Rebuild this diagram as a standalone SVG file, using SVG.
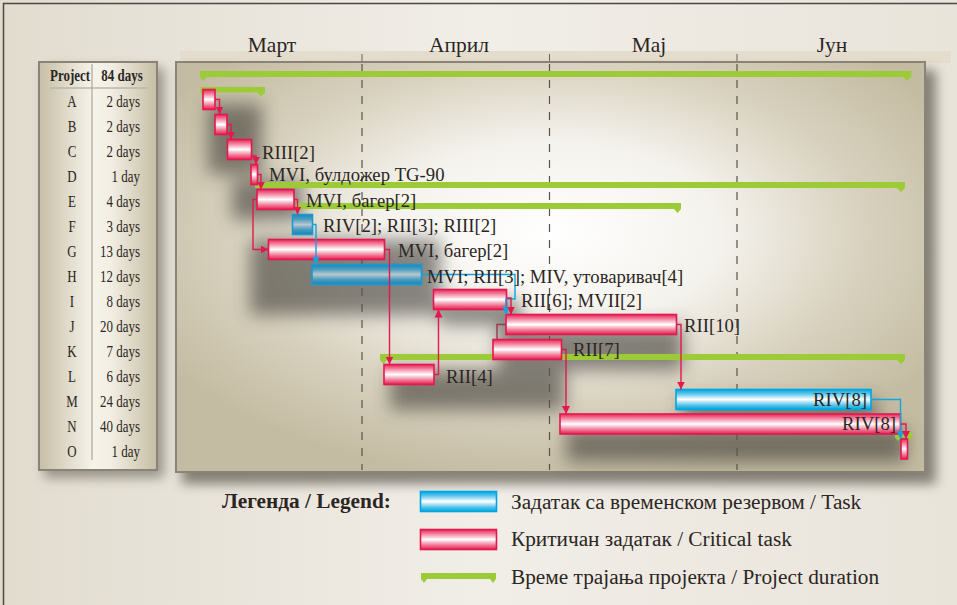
<svg xmlns="http://www.w3.org/2000/svg" width="957" height="605" viewBox="0 0 957 605">
<defs>
<linearGradient id="pageBg" x1="0" y1="0" x2="1" y2="0">
<stop offset="0" stop-color="#e2dccf"/><stop offset="0.5" stop-color="#f1eee8"/><stop offset="1" stop-color="#e9e4da"/>
</linearGradient>
<radialGradient id="chartBg" cx="0.5" cy="0.42" r="0.6">
<stop offset="0" stop-color="#ffffff"/><stop offset="0.38" stop-color="#f4f2ec"/><stop offset="0.7" stop-color="#d8d1be"/><stop offset="1" stop-color="#c4bca2"/>
</radialGradient>
<linearGradient id="tableBg" x1="0" y1="0" x2="1" y2="0">
<stop offset="0" stop-color="#c6bea5"/><stop offset="0.45" stop-color="#f6f3ea"/><stop offset="0.6" stop-color="#f3efe4"/><stop offset="1" stop-color="#c6bea5"/>
</linearGradient>
<linearGradient id="red" x1="0" y1="0" x2="0" y2="1">
<stop offset="0" stop-color="#e8285a"/><stop offset="0.2" stop-color="#f27a98"/><stop offset="0.5" stop-color="#ffffff"/><stop offset="0.8" stop-color="#f07090"/><stop offset="1" stop-color="#e51e52"/>
</linearGradient>
<linearGradient id="blue" x1="0" y1="0" x2="0" y2="1">
<stop offset="0" stop-color="#00a8e2"/><stop offset="0.2" stop-color="#55c3ec"/><stop offset="0.5" stop-color="#ffffff"/><stop offset="0.8" stop-color="#4fc0ea"/><stop offset="1" stop-color="#00a6e0"/>
</linearGradient>
<linearGradient id="blueDark" x1="0" y1="0" x2="0" y2="1">
<stop offset="0" stop-color="#1688b8"/><stop offset="0.25" stop-color="#4f9fc0"/><stop offset="0.5" stop-color="#b8c8ce"/><stop offset="0.75" stop-color="#4b9cbf"/><stop offset="1" stop-color="#1386b8"/>
</linearGradient>
<filter id="blur8" x="-20%" y="-20%" width="140%" height="160%"><feGaussianBlur stdDeviation="9"/></filter>
<filter id="blur5" x="-20%" y="-20%" width="140%" height="140%"><feGaussianBlur stdDeviation="6"/></filter>
<marker id="arR" viewBox="0 0 8 8" refX="8" refY="4" markerWidth="8" markerHeight="8.5" markerUnits="userSpaceOnUse" orient="auto"><path d="M0,0 L8,4 L0,8 Z" fill="#e5174f"/></marker>
<marker id="arB" viewBox="0 0 8 8" refX="8" refY="4" markerWidth="8" markerHeight="8.5" markerUnits="userSpaceOnUse" orient="auto"><path d="M0,0 L8,4 L0,8 Z" fill="#12a4dc"/></marker>
<style>
.serif{font-family:"Liberation Serif","DejaVu Serif",serif;fill:#2b2623}
.tbl{font-family:"Liberation Serif","DejaVu Serif",serif;font-size:17.5px;fill:#2b2623}
.lbl{font-family:"Liberation Serif","DejaVu Serif",serif;font-size:18.7px;fill:#2b2623}
.rb{fill:url(#red);stroke:#e5174f;stroke-width:1.6}
.bb{fill:url(#blue);stroke:#00a6e0;stroke-width:1.6}
.bd{fill:url(#blueDark);stroke:#1a9ad2;stroke-width:1.6}
.cr{fill:none;stroke:#e5174f;stroke-width:1.4;marker-end:url(#arR)}
.cb{fill:none;stroke:#12a4dc;stroke-width:1.4;marker-end:url(#arB)}
.cd{fill:none;stroke:#9a3a48;stroke-width:1.4}
.gr{fill:#9dcb38}
.dash{stroke:#5b534a;stroke-width:1.2;stroke-dasharray:8 8}
</style>
</defs>

<!-- page -->
<rect x="0" y="0" width="957" height="605" fill="url(#pageBg)"/>
<path d="M3.5,605 V3.5 H957" fill="none" stroke="#4a4744" stroke-width="1.5"/>

<!-- header strip -->
<rect x="180" y="51" width="771" height="12" fill="#e4ddcd"/>
<g stroke="#6b645a" stroke-width="1">
<line x1="362" y1="54" x2="362" y2="63"/><line x1="549.5" y1="54" x2="549.5" y2="63"/><line x1="737" y1="54" x2="737" y2="63"/>
</g>
<g class="serif" font-size="21.5" text-anchor="middle">
<text x="272" y="52">Март</text>
<text x="459" y="52">Април</text>
<text x="649" y="52">Мај</text>
<text x="832" y="52">Јун</text>
</g>

<!-- shadows of panels -->
<rect x="182" y="70" width="754" height="414" fill="#5a5448" opacity="0.7" filter="url(#blur5)"/>
<rect x="44" y="68" width="120" height="410" fill="#5a5448" opacity="0.55" filter="url(#blur5)"/>

<!-- chart panel -->
<rect x="176" y="62" width="749" height="410" fill="url(#chartBg)" stroke="#8a8478" stroke-width="2"/>

<!-- table panel -->
<g id="table">
<rect x="39" y="62" width="118" height="408" fill="url(#tableBg)" stroke="#8a8478" stroke-width="2"/>
<line x1="50" y1="88" x2="148" y2="88" stroke="#bcb6aa" stroke-width="1.5"/>
<line x1="92" y1="64" x2="92" y2="460" stroke="#aba699" stroke-width="1.2"/>
<g class="tbl" font-weight="bold" text-anchor="middle">
<text transform="translate(70,81) scale(0.74 1)">Project</text>
<text transform="translate(122,81) scale(0.74 1)">84 days</text>
</g>
<g class="tbl" text-anchor="middle">
<text transform="translate(72,107) scale(0.74 1)">A</text>
<text transform="translate(72,132) scale(0.74 1)">B</text>
<text transform="translate(72,157) scale(0.74 1)">C</text>
<text transform="translate(72,182) scale(0.74 1)">D</text>
<text transform="translate(72,207) scale(0.74 1)">E</text>
<text transform="translate(72,232) scale(0.74 1)">F</text>
<text transform="translate(72,257) scale(0.74 1)">G</text>
<text transform="translate(72,282) scale(0.74 1)">H</text>
<text transform="translate(72,307) scale(0.74 1)">I</text>
<text transform="translate(72,332) scale(0.74 1)">J</text>
<text transform="translate(72,357) scale(0.74 1)">K</text>
<text transform="translate(72,382) scale(0.74 1)">L</text>
<text transform="translate(72,407) scale(0.74 1)">M</text>
<text transform="translate(72,432) scale(0.74 1)">N</text>
<text transform="translate(72,457) scale(0.74 1)">O</text>
</g>
<g class="tbl" text-anchor="end">
<text transform="translate(140,107) scale(0.74 1)">2 days</text>
<text transform="translate(140,132) scale(0.74 1)">2 days</text>
<text transform="translate(140,157) scale(0.74 1)">2 days</text>
<text transform="translate(140,182) scale(0.74 1)">1 day</text>
<text transform="translate(140,207) scale(0.74 1)">4 days</text>
<text transform="translate(140,232) scale(0.74 1)">3 days</text>
<text transform="translate(140,257) scale(0.74 1)">13 days</text>
<text transform="translate(140,282) scale(0.74 1)">12 days</text>
<text transform="translate(140,307) scale(0.74 1)">8 days</text>
<text transform="translate(140,332) scale(0.74 1)">20 days</text>
<text transform="translate(140,357) scale(0.74 1)">7 days</text>
<text transform="translate(140,382) scale(0.74 1)">6 days</text>
<text transform="translate(140,407) scale(0.74 1)">24 days</text>
<text transform="translate(140,432) scale(0.74 1)">40 days</text>
<text transform="translate(140,457) scale(0.74 1)">1 day</text>
</g>
</g>

<!-- bar shadows -->
<g fill="#3e3a36" opacity="0.6" filter="url(#blur8)">
<rect x="208" y="104" width="54" height="70"/>
<rect x="232" y="180" width="70" height="40"/>
<rect x="250" y="240" width="190" height="75"/>
<rect x="440" y="300" width="80" height="25"/>
<rect x="498" y="325" width="185" height="45"/>
<rect x="390" y="370" width="175" height="40"/>
<rect x="682" y="400" width="195" height="22"/>
<rect x="566" y="428" width="340" height="34"/>
</g>

<!-- dashed month lines -->
<g class="dash">
<line x1="362" y1="64" x2="362" y2="470"/>
<line x1="549.5" y1="64" x2="549.5" y2="470"/>
<line x1="737" y1="64" x2="737" y2="470"/>
</g>

<!-- project duration bars -->
<g id="durations" class="gr">
<path d="M200,71 H911.5 V77 H911 L907,81 L903,77 H207 L203,81 L200,77 Z"/>
<path d="M200.5,87 H265 V92.5 L261,96.5 L257,92.5 H207 L203,96.5 L200.5,92.5 Z"/>
<path d="M255,182 H905 V188 L901,192 L897,188 H255 Z"/>
<path d="M296,203 H681 V209 L677.5,213 L674,209 H296 Z"/>
<path d="M380,354 H905 V360 L901,364 L897,360 H387 L383.5,364 L380,360 Z"/>
<path d="M895,432 H912 V437.5 L909,441 L906,437.5 H901 L898,441 L895,437.5 Z"/>
</g>

<!-- tasks -->
<g id="task-A"><rect class="rb" x="203" y="89.5" width="12" height="20"/></g>
<g id="task-B"><rect class="rb" x="215" y="114.5" width="12" height="20"/></g>
<g id="task-C"><rect class="rb" x="227.5" y="139.5" width="24" height="20"/></g>
<g id="task-D"><rect class="rb" x="251" y="164.5" width="6.5" height="20"/></g>
<g id="task-E"><rect class="rb" x="257" y="189.5" width="37" height="20"/></g>
<g id="task-F"><rect class="bd" x="292.5" y="214.5" width="20" height="20"/></g>
<g id="task-G"><rect class="rb" x="268.5" y="239.5" width="116" height="20"/></g>
<g id="task-H"><rect class="bd" x="312" y="264.5" width="109.5" height="20"/></g>
<g id="task-I"><rect class="rb" x="433.5" y="289.5" width="73" height="20"/></g>
<g id="task-J"><rect class="rb" x="506" y="314.5" width="170.5" height="20"/></g>
<g id="task-K"><rect class="rb" x="493" y="339.5" width="68.5" height="20"/></g>
<g id="task-L"><rect class="rb" x="384" y="364.5" width="50" height="20"/></g>
<g id="task-M"><rect class="bb" x="676" y="389.5" width="195" height="20"/></g>
<g id="task-N"><rect class="rb" x="560" y="414" width="340.5" height="20"/></g>
<g id="task-O"><rect class="rb" x="901" y="439" width="6.5" height="20"/></g>

<!-- connectors -->
<g id="connectors">
<path class="cr" d="M215,99.5 H219.5 V114.5"/>
<path class="cr" d="M227,124.5 H231 V139.5"/>
<path class="cr" d="M251.5,156 H256 V164.5"/>
<path class="cr" d="M257.5,174.5 H261 V189.5"/>
<path class="cr" d="M294,199.5 H297.5 V214.5"/>
<path class="cr" d="M257,199.5 H253 V249.5 H268.5"/>
<path class="cb" d="M312.5,224.5 H316 V264.5"/>
<path class="cr" d="M384.5,249.5 H389.5 V364.5"/>
<path class="cb" d="M421.5,274.5 H515 V299 H506 V314.5"/>
<path class="cr" d="M506.5,298 H511 V314.5"/>
<path class="cr" d="M434,374.5 H438.5 V309.5"/>
<path class="cd" d="M506,324.5 H497 V339.5"/>
<path class="cr" d="M676.5,324.5 H681 V389.5"/>
<path class="cr" d="M561.5,349.5 H566 V414"/>
<path class="cb" d="M871,399.5 H900.5 V439"/>
<path class="cr" d="M900.5,424 H906 V439"/>
</g>

<!-- labels -->
<g class="lbl">
<text x="262" y="159">RIII[2]</text>
<text x="269" y="181">MVI, булдожер TG-90</text>
<text x="306" y="207">MVI, багер[2]</text>
<text x="323" y="232">RIV[2]; RII[3]; RIII[2]</text>
<text x="398" y="257">MVI, багер[2]</text>
<text x="427" y="283">MVI; RII[3]; MIV, утоваривач[4]</text>
<text x="521" y="307">RII[6]; MVII[2]</text>
<text x="684" y="332">RII[10]</text>
<text x="573" y="356">RII[7]</text>
<text x="446" y="383">RII[4]</text>
<text x="867" y="406" text-anchor="end">RIV[8]</text>
<text x="896" y="430" text-anchor="end">RIV[8]</text>
</g>

<!-- legend -->
<g id="legend">
<text class="serif" x="222" y="508" font-size="21.3" font-weight="bold">Легенда / Legend:</text>
<rect class="bb" x="420.5" y="491.5" width="76" height="20"/>
<text class="serif" x="511" y="509" font-size="21.3">Задатак са временском резервом / Task</text>
<rect class="rb" x="420.5" y="529.5" width="76" height="20"/>
<text class="serif" x="511" y="546" font-size="21.3">Критичан задатак / Critical task</text>
<path class="gr" d="M421,573 H496 V579 L493,583 L490,579 H427 L424,583 L421,579 Z"/>
<text class="serif" x="511" y="584" font-size="21.3">Време трајања пројекта / Project duration</text>
</g>
</svg>
